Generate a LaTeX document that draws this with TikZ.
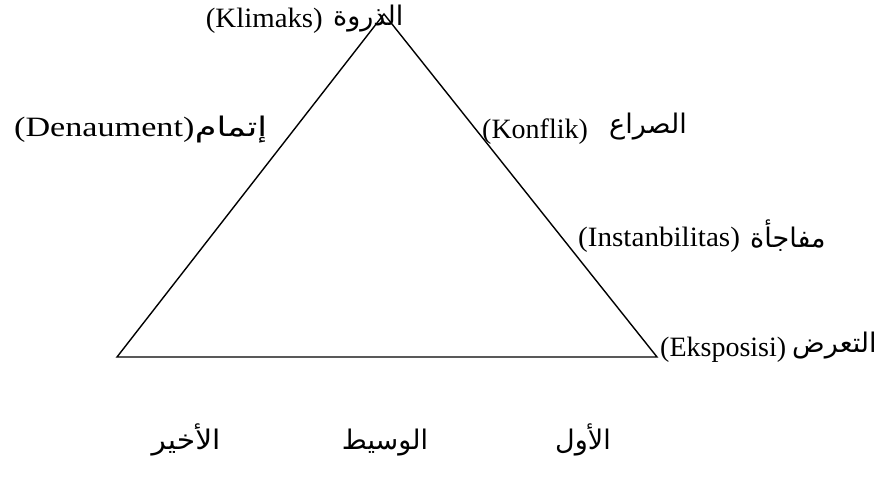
\documentclass[tikz,border=0pt]{standalone}
\usepackage{fontspec}
\setmainfont{Liberation Serif}
\newfontfamily\arabicfont[Script=Arabic]{DejaVu Sans}
\TeXXeTstate=1
\newcommand\hstretchbox[2]{\scalebox{#1}[1]{#2}}
\begin{document}
\begin{tikzpicture}[x=1pt,y=-1pt,
  lat/.style={inner sep=0pt,font=\fontsize{28}{32}\selectfont},
  ara/.style={inner sep=0pt,font=\arabicfont\fontsize{27}{32}\selectfont}]
\useasboundingbox (0,0) rectangle (887,477);
\coordinate (apex) at (384,14);
\coordinate (bl) at (117,357);
\coordinate (br) at (657,357);
\draw[line width=1.4pt, line join=miter] (apex) -- (br) -- (bl) -- cycle;
% top
\node[lat, anchor=east] (klim) at (323,21) {\hstretchbox{1.03}{(Klimaks)}};
\node[ara, anchor=west] (dhirwa) at (333,19) {\beginR الذروة\endR};
% left
\node[lat, anchor=west] (denau) at (14,130) {\hstretchbox{1.22}{(Denaument)}};
\node[ara, anchor=west] (itmam) at (denau.east) {\hstretchbox{1.3}{\beginR إتمام\endR}};
% right side
\node[lat, anchor=west] (konf) at (482,132) {(Konflik)};
\node[ara, anchor=west] (sira) at (609,127) {\beginR الصراع\endR};
\node[lat, anchor=west] (inst) at (578,240) {\hstretchbox{1.04}{(Instanbilitas)}};
\node[ara, anchor=west] (mufa) at (750,236) {\beginR مفاجأة\endR};
\node[lat, anchor=west] (eksp) at (660,350) {(Eksposisi)};
\node[ara, anchor=west] (taar) at (792,346) {\beginR التعرض\endR};
% bottom
\node[ara, anchor=base] (akhir) at (186,449) {\hstretchbox{1.1}{\beginR الأخير\endR}};
\node[ara, anchor=base] (wasit) at (385,449) {\beginR الوسيط\endR};
\node[ara, anchor=base] (awwal) at (583,449) {\beginR الأول\endR};
\end{tikzpicture}
\end{document}
